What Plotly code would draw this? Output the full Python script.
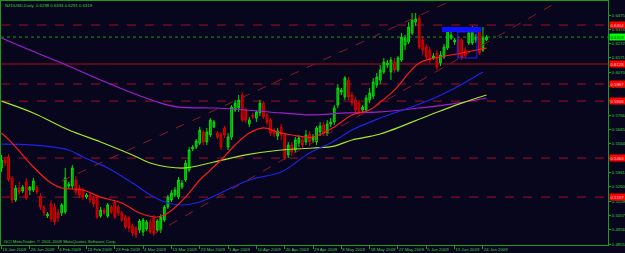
import plotly.graph_objects as go

# ---------------- data ----------------
date_labels = ["16 Jan 2009", "26 Jan 2009", "4 Feb 2009", "13 Feb 2009", "23 Feb 2009",
               "4 Mar 2009", "13 Mar 2009", "23 Mar 2009", "1 Apr 2009", "10 Apr 2009",
               "20 Apr 2009", "29 Apr 2009", "8 May 2009", "18 May 2009", "27 May 2009",
               "5 Jun 2009", "15 Jun 2009", "24 Jun 2009"]
date_label_bars = [0, 8, 16, 24, 32, 40, 48, 56, 64, 72, 80, 88, 96, 104, 112, 120, 128, 136]

opens = [.5393,.5449,.5470,.5322,.5166,.5251,.5230,.5294,.5237,.5237,
         .5258,.5194,.5117,.5053,.5138,.5117,.5081,.5074,.5081,.5265,
         .5265,.5308,.5251,.5237,.5187,.5202,.5180,.5180,.5053,.5096,
         .5053,.5117,.5152,.5117,.5074,.5046,.5039,.4982,.4968,.4954,
         .4940,.4961,.5011,.5039,.4954,.4954,.5025,.5117,.5166,.5202,
         .5187,.5258,.5308,.5378,.5527,.5541,.5569,.5647,.5577,.5626,
         .5683,.5640,.5626,.5676,.5541,.5612,.5803,.5817,.5909,.5803,
         .5704,.5768,.5746,.5782,.5852,.5768,.5732,.5661,.5619,.5683,
         .5626,.5485,.5555,.5520,.5569,.5591,.5577,.5633,.5591,.5577,
         .5647,.5697,.5640,.5704,.5718,.5838,.5930,.5895,.6015,.5909,
         .5874,.5852,.5803,.5803,.5874,.5902,.5980,.6015,.6072,.6121,
         .6072,.6142,.6086,.6157,.6263,.6284,.6348,.6425,.6454,.6298,
         .6248,.6227,.6171,.6206,.6135,.6178,.6241,.6312,.6284,.6298,
         .6298,.6227,.6277,.6277,.6298,.6369,.6227,.6298]
highs = [.5485,.5470,.5492,.5336,.5272,.5294,.5272,.5322,.5265,.5322,
         .5272,.5216,.5131,.5081,.5166,.5145,.5103,.5145,.5393,.5294,
         .5414,.5336,.5272,.5251,.5216,.5223,.5194,.5202,.5117,.5110,
         .5145,.5131,.5166,.5131,.5089,.5060,.5053,.4997,.4982,.5032,
         .5039,.5025,.5032,.5060,.5032,.5067,.5131,.5202,.5237,.5258,
         .5329,.5308,.5449,.5541,.5555,.5598,.5683,.5661,.5676,.5746,
         .5732,.5654,.5647,.5690,.5640,.5838,.5874,.5909,.5930,.5817,
         .5753,.5782,.5803,.5874,.5866,.5782,.5746,.5676,.5676,.5704,
         .5640,.5577,.5577,.5612,.5626,.5612,.5661,.5654,.5633,.5690,
         .5718,.5718,.5732,.5746,.5838,.5987,.5959,.6043,.6036,.5930,
         .5895,.5874,.5838,.5909,.5959,.6029,.6065,.6121,.6171,.6157,
         .6178,.6171,.6185,.6348,.6333,.6425,.6489,.6489,.6475,.6326,
         .6270,.6248,.6206,.6227,.6220,.6270,.6383,.6355,.6312,.6326,
         .6312,.6248,.6369,.6397,.6341,.6383,.6390,.6333]
lows = [.5364,.5407,.5294,.5145,.5152,.5202,.5216,.5166,.5202,.5223,
        .5209,.5096,.5053,.5039,.5011,.4989,.5011,.5053,.5067,.5244,
        .5244,.5202,.5180,.5166,.5173,.5145,.5117,.5032,.5039,.5060,
        .5039,.5067,.5032,.5053,.5011,.4961,.4940,.4912,.4897,.4933,
        .4912,.4947,.4926,.4912,.4940,.4933,.5011,.5103,.5152,.5187,
        .5173,.5244,.5294,.5364,.5513,.5527,.5555,.5555,.5555,.5612,
        .5676,.5598,.5520,.5605,.5520,.5591,.5789,.5789,.5718,.5711,
        .5683,.5739,.5718,.5760,.5739,.5697,.5619,.5612,.5591,.5591,
        .5449,.5463,.5477,.5499,.5541,.5534,.5555,.5548,.5569,.5555,
        .5619,.5619,.5619,.5683,.5697,.5817,.5909,.5874,.5874,.5831,
        .5782,.5768,.5782,.5782,.5852,.5881,.5959,.5987,.6058,.6100,
        .6015,.6065,.6072,.6142,.6227,.6270,.6333,.6397,.6234,.6192,
        .6157,.6135,.6157,.6086,.6114,.6164,.6227,.6298,.6263,.6171,
        .6157,.6171,.6263,.6263,.6277,.6192,.6213,.6291]
closes = [.5449,.5428,.5308,.5166,.5251,.5223,.5258,.5180,.5258,.5301,
          .5223,.5117,.5074,.5067,.5032,.5011,.5039,.5131,.5322,.5279,
          .5393,.5223,.5202,.5187,.5202,.5166,.5138,.5046,.5096,.5074,
          .5131,.5081,.5046,.5074,.5025,.4975,.4968,.4933,.4919,.5018,
          .5025,.5011,.4940,.4933,.5018,.5046,.5117,.5187,.5216,.5237,
          .5308,.5286,.5428,.5520,.5541,.5584,.5661,.5577,.5647,.5732,
          .5718,.5612,.5541,.5626,.5612,.5824,.5852,.5874,.5732,.5732,
          .5732,.5753,.5789,.5852,.5753,.5718,.5640,.5633,.5654,.5626,
          .5463,.5555,.5506,.5591,.5605,.5555,.5626,.5577,.5612,.5676,
          .5690,.5640,.5704,.5718,.5817,.5959,.5944,.6029,.5895,.5852,
          .5803,.5789,.5824,.5888,.5923,.6001,.6036,.6086,.6142,.6135,
          .6157,.6086,.6171,.6319,.6312,.6390,.6440,.6447,.6248,.6227,
          .6178,.6157,.6185,.6107,.6192,.6248,.6369,.6333,.6298,.6192,
          .6171,.6185,.6348,.6383,.6319,.6206,.6312,.6319]
bars = list(range(len(closes)))

# moving averages
ma_fast_bars = [0, 3, 9, 14, 17, 23, 28, 34, 39, 44, 47, 52, 56, 59, 62, 66, 70, 74, 78, 82,
                88, 94, 99, 104, 107, 111, 118, 124, 130, 137]
ma_fast = [.5640, .5569, .5400, .5286, .5251, .5237, .5187, .5145, .5074, .5046, .5074, .5187,
           .5308, .5378, .5449, .5555, .5640, .5676, .5647, .5626, .5612, .5683, .5768, .5803,
           .5859, .5944, .6135, .6178, .6206, .6241]
ma_blue_bars = [0, 9, 19, 23, 30, 37, 43, 47, 51, 56, 70, 79, 87, 93, 99, 107, 115, 121, 127, 136]
ma_blue = [.5562, .5555, .5520, .5470, .5393, .5286, .5187, .5145, .5131, .5152, .5308, .5364,
           .5499, .5569, .5661, .5746, .5817, .5874, .5944, .6072]
ma_lime_bars = [0, 9, 19, 28, 37, 42, 47, 52, 60, 69, 79, 88, 94, 99, 107, 121, 130, 137]
ma_lime = [.5866, .5782, .5661, .5577, .5485, .5428, .5400, .5393, .5435, .5485, .5520, .5534,
           .5548, .5591, .5633, .5768, .5852, .5909]
ma_purple_bars = [0, 8, 17, 28, 37, 45, 50, 60, 69, 79, 88, 97, 107, 118, 127, 137]
ma_purple = [.6312, .6227, .6135, .6015, .5923, .5852, .5824, .5817, .5803, .5782, .5768, .5782,
             .5789, .5817, .5845, .5888]

# horizontal levels and channel lines
h_levels = [0.6404, 0.6128, 0.5987, 0.5866, 0.5463, 0.5187]
current_price = 0.6319
upper_channel_bars = [17, 127.5]
upper_channel = [0.5301, 0.6581]
lower_channel_bars = [43, 157]
lower_channel = [0.4926, 0.6567]
box_bars = [124.4, 135.5]
box_prices = [0.6355, 0.6390]
box2_bars = [128.9, 134.3]
box2_prices = [0.6171, 0.6355]

ytick_vals = [.6475, .6374, .6272, .6171, .6070, .5969, .5867, .5766, .5665, .5564, .5462,
              .5361, .5260, .5159, .5057, .4956, .4855]

# ---------------- figure ----------------
W, H = 625, 253
BG = "#07061c"
FRAME = "#1f9a1f"
TXT = "#3fcf3f"
FONT = "Liberation Sans"

fig = go.Figure()

for xs, ys, col in [(ma_purple_bars, ma_purple, "#a020d0"),
                    (ma_lime_bars, ma_lime, "#a8e628"),
                    (ma_blue_bars, ma_blue, "#2222e8"),
                    (ma_fast_bars, ma_fast, "#ff1a1a")]:
    fig.add_trace(go.Scatter(x=xs, y=ys, mode="lines",
                             line=dict(color=col, width=1.2, shape="spline", smoothing=1.0),
                             hoverinfo="skip", showlegend=False))

for xs, ys in [(upper_channel_bars, upper_channel), (lower_channel_bars, lower_channel)]:
    fig.add_trace(go.Scatter(x=xs, y=ys, mode="lines", line=dict(color="#8a1a2a", width=1, dash="dash"),
                             hoverinfo="skip", showlegend=False))

fig.add_trace(go.Candlestick(
    x=bars, open=opens, high=highs, low=lows, close=closes,
    increasing=dict(line=dict(color="#00e000", width=1), fillcolor="#00a000"),
    decreasing=dict(line=dict(color="#e00000", width=1), fillcolor="#900000"),
    whiskerwidth=0, showlegend=False, hoverinfo="skip"))

shapes = []
for i, lv in enumerate(h_levels):
    shapes.append(dict(type="line", xref="x domain", x0=0, x1=1, yref="y", y0=lv, y1=lv,
                       line=dict(color="#7a0a1a" if i == 1 else "#a0102a", width=1.4 if i == 1 else 1,
                                 dash="solid" if i == 1 else "dash"), layer="below"))
shapes.append(dict(type="line", xref="x domain", x0=0, x1=1, yref="y", y0=current_price, y1=current_price,
                   line=dict(color="#1a9a1a", width=1, dash="dot"), layer="below"))
shapes.append(dict(type="rect", xref="x", yref="y", x0=box_bars[0], x1=box_bars[1],
                   y0=box_prices[0], y1=box_prices[1], fillcolor="#1010ff", line=dict(width=0)))
shapes.append(dict(type="rect", xref="x", yref="y", x0=box2_bars[0], x1=box2_bars[1],
                   y0=box2_prices[0], y1=box2_prices[1], fillcolor="rgba(0,0,0,0)",
                   line=dict(color="#2020ff", width=1)))

annotations = []
for lv in h_levels:
    annotations.append(dict(xref="paper", x=609 / W, xanchor="left", yref="y", y=lv, yanchor="middle",
                            text=f"{lv:.4f}", showarrow=False, bgcolor="#ff0000", borderpad=0.5,
                            font=dict(family=FONT, size=4.3, color="#ffd0d0")))
annotations.append(dict(xref="paper", x=609 / W, xanchor="left", yref="y", y=current_price, yanchor="middle",
                        text=f"{current_price:.4f}", showarrow=False, bgcolor="#00ff00", borderpad=0.5,
                        font=dict(family=FONT, size=4.3, color="#003000")))
annotations.append(dict(xref="paper", yref="paper", x=3 / W, y=(H - 5.5) / H, xanchor="left", yanchor="middle",
                        text=f"NZDUSD,Daily  {opens[-1]:.4f} {highs[-1]:.4f} {lows[-1]:.4f} {closes[-1]:.4f}",
                        showarrow=False, font=dict(family=FONT, size=4.3, color=TXT)))
annotations.append(dict(xref="paper", yref="paper", x=2 / W, y=(H - 241) / H, xanchor="left", yanchor="middle",
                        text="GCI MetaTrader, © 2001-2008 MetaQuotes Software Corp.",
                        showarrow=False, font=dict(family=FONT, size=4.3, color=TXT)))

px_per_bar = 3.54
x0_px = 1.5
fig.update_layout(
    width=W, height=H, margin=dict(l=0, r=0, t=0, b=0, autoexpand=False),
    paper_bgcolor=BG, plot_bgcolor=BG,
    shapes=shapes, annotations=annotations,
    showlegend=False,
    xaxis=dict(domain=[1 / W, 608 / W], range=[(1 - x0_px) / px_per_bar, (608 - x0_px) / px_per_bar],
               rangeslider=dict(visible=False), showgrid=False, zeroline=False, automargin=False,
               showline=True, linecolor=FRAME, linewidth=1, mirror=True,
               tickvals=date_label_bars, ticktext=date_labels, ticks="outside", ticklen=3,
               tickangle=0, tickcolor=FRAME, ticklabelposition="outside right",
               tickfont=dict(family=FONT, size=4.3, color=TXT)),
    yaxis=dict(domain=[(H - 245) / H, (H - 1) / H], range=[0.4848, 0.6574], side="right",
               showgrid=False, zeroline=False, automargin=False,
               showline=True, linecolor=FRAME, linewidth=1, mirror=True,
               tickvals=ytick_vals, ticktext=[f"{v:.4f}" for v in ytick_vals], ticks="outside",
               ticklen=2, tickcolor=FRAME, tickfont=dict(family=FONT, size=4.3, color=TXT)),
)

fig.write_html("out.html")
